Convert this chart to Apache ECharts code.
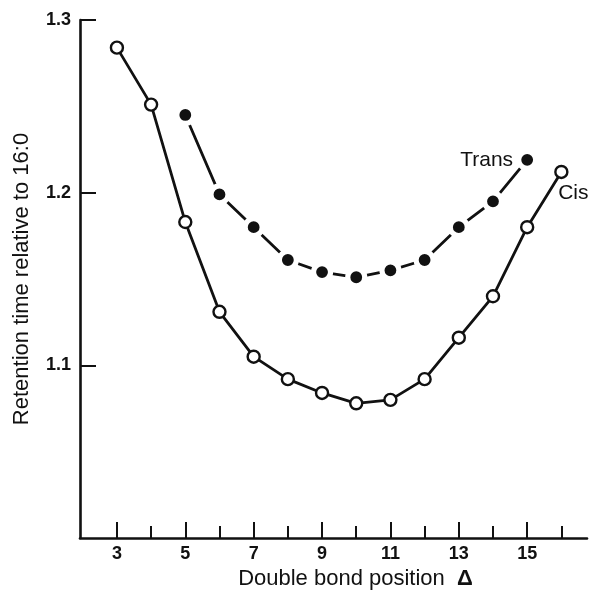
<!DOCTYPE html>
<html>
<head>
<meta charset="utf-8">
<script src="https://cdn.jsdelivr.net/npm/echarts@6/dist/echarts.min.js"></script>
<style>
html,body{margin:0;padding:0;background:#fff;}
#chart{width:594px;height:595px;}
</style>
</head>
<body>
<div id="chart"></div>
<script>
// Data
const cisX = [3, 4, 5, 6, 7, 8, 9, 10, 11, 12, 13, 14, 15, 16];
const cisY = [1.284, 1.251, 1.183, 1.131, 1.105, 1.092, 1.084, 1.078, 1.080, 1.092, 1.116, 1.140, 1.180, 1.212];
const transX = [5, 6, 7, 8, 9, 10, 11, 12, 13, 14, 15];
const transY = [1.245, 1.199, 1.180, 1.161, 1.154, 1.151, 1.155, 1.161, 1.180, 1.195, 1.219];
const xLabelTicks = [3, 5, 7, 9, 11, 13, 15];
const xMinorTicks = [4, 6, 8, 10, 12, 14, 16];
const yTicks = [1.1, 1.2, 1.3];

const font = '"Liberation Sans", Arial, Helvetica, sans-serif';
const ink = '#111';

function pairs(xs, ys) { return xs.map((x, i) => [x, ys[i]]); }

const cisData = pairs(cisX, cisY).map((p, i, arr) => i === arr.length - 1 ? {
  value: p,
  label: {show: true, formatter: 'Cis', position: [4, 18], align: 'left', verticalAlign: 'top',
          fontFamily: font, fontSize: 21, color: ink}
} : p);
const transData = pairs(transX, transY).map((p, i, arr) => i === arr.length - 1 ? {
  value: p,
  label: {show: true, formatter: 'Trans', position: 'left', distance: 3,
          fontFamily: font, fontSize: 21, color: ink}
} : p);

const chart = echarts.init(document.getElementById('chart'), null, {renderer: 'canvas'});
chart.setOption({
  backgroundColor: '#fff',
  animation: false,
  grid: {left: 80, right: 7, top: 20, bottom: 56, containLabel: false},
  xAxis: [{
    type: 'value', min: 1.92, max: 16.75, position: 'bottom',
    name: 'Double bond position  {d|Δ}', nameLocation: 'middle', nameGap: 30,
    nameTextStyle: {fontFamily: font, fontSize: 22, color: ink, padding: [0, 0, 0, 44],
      rich: {d: {fontFamily: font, fontSize: 22, fontWeight: 'bold', color: ink}}},
    axisLine: {show: true, onZero: false, lineStyle: {color: ink, width: 2.6}},
    axisTick: {show: true, inside: true, length: 16, customValues: xLabelTicks, lineStyle: {color: ink, width: 2}},
    axisLabel: {show: true, customValues: xLabelTicks, margin: 7, fontFamily: font, fontSize: 18, fontWeight: 'bold', color: ink},
    splitLine: {show: false}
  }, {
    type: 'value', min: 1.92, max: 16.75, position: 'bottom',
    axisLine: {show: false, onZero: false},
    axisTick: {show: true, inside: true, length: 12, customValues: xMinorTicks, lineStyle: {color: ink, width: 2}},
    axisLabel: {show: false},
    splitLine: {show: false}
  }],
  yAxis: {
    type: 'value', min: 1.0, max: 1.3,
    name: 'Retention time relative to 16:0', nameLocation: 'middle', nameGap: 47,
    nameTextStyle: {fontFamily: font, fontSize: 22, color: ink},
    axisLine: {show: true, onZero: false, lineStyle: {color: ink, width: 2.6}},
    axisTick: {show: true, inside: true, length: 16, customValues: yTicks, lineStyle: {color: ink, width: 2}},
    axisLabel: {show: true, customValues: yTicks, margin: 9, fontFamily: font, fontSize: 18, fontWeight: 'bold', color: ink,
      formatter: v => v.toFixed(1)},
    splitLine: {show: false}
  },
  series: [{
    name: 'Cis', type: 'line', xAxisIndex: 0, data: cisData,
    symbol: 'circle', symbolSize: 12,
    lineStyle: {color: ink, width: 2.8},
    itemStyle: {color: '#fff', borderColor: ink, borderWidth: 2.4},
    z: 2
  }, {
    name: 'Trans', type: 'line', xAxisIndex: 0, data: transData,
    symbol: 'circle', symbolSize: 17,
    lineStyle: {color: ink, width: 2.8},
    itemStyle: {color: ink, borderColor: '#fff', borderWidth: 5.2},
    z: 3
  }]
});
</script>
</body>
</html>
